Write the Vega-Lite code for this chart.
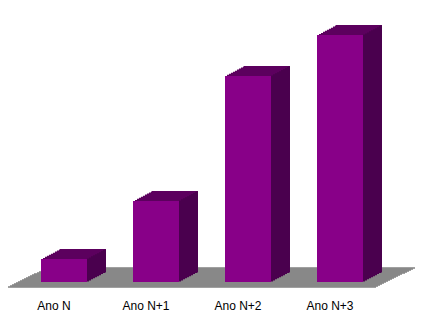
{
  "$schema": "https://vega.github.io/schema/vega-lite/v6.json",
  "autosize": {"type": "none"},
  "padding": {"left": 18, "top": 0, "right": 42, "bottom": 37},
  "width": 368,
  "height": 282,
  "background": "white",
  "config": {"view": {"stroke": null}},
  "data": {"values": [
    {"ano": "Ano N", "valor": 9.8},
    {"ano": "Ano N+1", "valor": 34.5},
    {"ano": "Ano N+2", "valor": 87.7},
    {"ano": "Ano N+3", "valor": 105.1}
  ]},
  "resolve": {"axis": {"x": "independent"}},
  "layer": [
    {
      "data": {"values": [{}]},
      "encoding": {
        "x": {"datum": "Ano N", "type": "nominal", "bandPosition": 0, "axis": null, "scale": {"domain": ["Ano N", "Ano N+1", "Ano N+2", "Ano N+3"], "paddingInner": 0, "paddingOuter": 0}},
        "x2": {"datum": "Ano N+3", "bandPosition": 1},
        "y": {"datum": 0, "type": "quantitative", "scale": {"domain": [0, 120], "nice": false}, "axis": null}
      },
      "layer": [
        {"mark": {"type": "rule", "color": "#808080", "strokeWidth": 1.4, "yOffset": 5, "xOffset": -10, "x2Offset": -10}},
        {"mark": {"type": "rule", "color": "#808080", "strokeWidth": 1.4, "yOffset": 4, "xOffset": -8, "x2Offset": -8}},
        {"mark": {"type": "rule", "color": "#808080", "strokeWidth": 1.4, "yOffset": 3, "xOffset": -6, "x2Offset": -6}},
        {"mark": {"type": "rule", "color": "#808080", "strokeWidth": 1.4, "yOffset": 2, "xOffset": -4, "x2Offset": -4}},
        {"mark": {"type": "rule", "color": "#808080", "strokeWidth": 1.4, "yOffset": 1, "xOffset": -2, "x2Offset": -2}},
        {"mark": {"type": "rule", "color": "#808080", "strokeWidth": 1.4, "yOffset": 0, "xOffset": 0, "x2Offset": 0}},
        {"mark": {"type": "rule", "color": "#808080", "strokeWidth": 1.4, "yOffset": -1, "xOffset": 2, "x2Offset": 2}},
        {"mark": {"type": "rule", "color": "#808080", "strokeWidth": 1.4, "yOffset": -2, "xOffset": 4, "x2Offset": 4}},
        {"mark": {"type": "rule", "color": "#808080", "strokeWidth": 1.4, "yOffset": -3, "xOffset": 6, "x2Offset": 6}},
        {"mark": {"type": "rule", "color": "#808080", "strokeWidth": 1.4, "yOffset": -4, "xOffset": 8, "x2Offset": 8}},
        {"mark": {"type": "rule", "color": "#808080", "strokeWidth": 1.4, "yOffset": -5, "xOffset": 10, "x2Offset": 10}},
        {"mark": {"type": "rule", "color": "#808080", "strokeWidth": 1.4, "yOffset": -6, "xOffset": 12, "x2Offset": 12}},
        {"mark": {"type": "rule", "color": "#808080", "strokeWidth": 1.4, "yOffset": -7, "xOffset": 14, "x2Offset": 14}},
        {"mark": {"type": "rule", "color": "#808080", "strokeWidth": 1.4, "yOffset": -8, "xOffset": 16, "x2Offset": 16}},
        {"mark": {"type": "rule", "color": "#808080", "strokeWidth": 1.4, "yOffset": -9, "xOffset": 19, "x2Offset": 19}},
        {"mark": {"type": "rule", "color": "#808080", "strokeWidth": 1.4, "yOffset": -10, "xOffset": 21, "x2Offset": 21}},
        {"mark": {"type": "rule", "color": "#808080", "strokeWidth": 1.4, "yOffset": -11, "xOffset": 23, "x2Offset": 23}},
        {"mark": {"type": "rule", "color": "#808080", "strokeWidth": 1.4, "yOffset": -12, "xOffset": 25, "x2Offset": 25}},
        {"mark": {"type": "rule", "color": "#808080", "strokeWidth": 1.4, "yOffset": -13, "xOffset": 27, "x2Offset": 27}},
        {"mark": {"type": "rule", "color": "#808080", "strokeWidth": 1.4, "yOffset": -14, "xOffset": 29, "x2Offset": 29}}
      ]
    },
    {
      "encoding": {
        "x": {"field": "ano", "type": "nominal", "sort": null, "scale": {"domain": ["Ano N", "Ano N+1", "Ano N+2", "Ano N+3"], "paddingInner": 0, "paddingOuter": 0},
          "axis": {"title": null, "domain": false, "ticks": false, "bandPosition": 0.5, "labelAngle": 0, "labelPadding": 18, "labelOffset": -10, "labelFont": "Liberation Sans", "labelFontSize": 12, "labelColor": "#000000"}},
        "y": {"field": "valor", "type": "quantitative", "scale": {"domain": [0, 120], "nice": false}, "axis": null}
      },
      "layer": [
        {"mark": {"type": "bar", "width": 46, "color": "#5c005e", "xOffset": 2, "yOffset": -1.05}},
        {"mark": {"type": "bar", "width": 46, "color": "#5c005e", "xOffset": 4, "yOffset": -2.1}},
        {"mark": {"type": "bar", "width": 46, "color": "#5c005e", "xOffset": 6, "yOffset": -3.16}},
        {"mark": {"type": "bar", "width": 46, "color": "#5c005e", "xOffset": 8, "yOffset": -4.21}},
        {"mark": {"type": "bar", "width": 46, "color": "#5c005e", "xOffset": 10, "yOffset": -5.26}},
        {"mark": {"type": "bar", "width": 46, "color": "#5c005e", "xOffset": 12, "yOffset": -6.32}},
        {"mark": {"type": "bar", "width": 46, "color": "#5c005e", "xOffset": 14, "yOffset": -7.37}},
        {"mark": {"type": "bar", "width": 46, "color": "#5c005e", "xOffset": 16, "yOffset": -8.42}},
        {"mark": {"type": "bar", "width": 46, "color": "#5c005e", "xOffset": 18, "yOffset": -9.47}},
        {"mark": {"type": "bar", "width": 46, "color": "#5c005e", "xOffset": 19, "yOffset": -10}},

        {"mark": {"type": "bar", "width": 2, "color": "#4a004e", "xOffset": 24, "yOffset": -0.53}},
        {"mark": {"type": "bar", "width": 2, "color": "#4a004e", "xOffset": 26, "yOffset": -1.58}},
        {"mark": {"type": "bar", "width": 2, "color": "#4a004e", "xOffset": 28, "yOffset": -2.63}},
        {"mark": {"type": "bar", "width": 2, "color": "#4a004e", "xOffset": 30, "yOffset": -3.68}},
        {"mark": {"type": "bar", "width": 2, "color": "#4a004e", "xOffset": 32, "yOffset": -4.74}},
        {"mark": {"type": "bar", "width": 2, "color": "#4a004e", "xOffset": 34, "yOffset": -5.79}},
        {"mark": {"type": "bar", "width": 2, "color": "#4a004e", "xOffset": 36, "yOffset": -6.84}},
        {"mark": {"type": "bar", "width": 2, "color": "#4a004e", "xOffset": 38, "yOffset": -7.89}},
        {"mark": {"type": "bar", "width": 2, "color": "#4a004e", "xOffset": 40, "yOffset": -8.95}},
        {"mark": {"type": "bar", "width": 2, "color": "#4a004e", "xOffset": 41, "yOffset": -9.47}},

        {"mark": {"type": "bar", "width": 46, "color": "#880088"}}
      ]
    }
  ]
}
